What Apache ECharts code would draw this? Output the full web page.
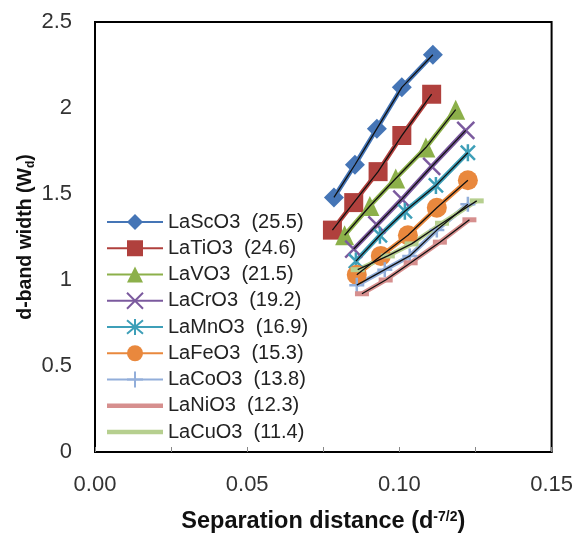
<!DOCTYPE html>
<html>
<head>
<meta charset="utf-8">
<script src="https://cdn.jsdelivr.net/npm/echarts@6/dist/echarts.min.js"></script>
<style>
  html, body { margin: 0; padding: 0; background: #fff; }
  #chart { width: 576px; height: 539px; }
</style>
</head>
<body>
<div id="chart"></div>
<script>
// compound names and legend values
var names = ["LaScO3", "LaTiO3", "LaVO3", "LaCrO3", "LaMnO3", "LaFeO3", "LaCoO3", "LaNiO3", "LaCuO3"];
var legendValues = ["25.5", "24.6", "21.5", "19.2", "16.9", "15.3", "13.8", "12.3", "11.4"];

// separation distance (x) for each compound
var xScO3 = [0.0785, 0.0854, 0.0926, 0.1008, 0.1110];
var xTiO3 = [0.0780, 0.0850, 0.0930, 0.1008, 0.1106];
var xVO3  = [0.0820, 0.0903, 0.0988, 0.1087, 0.1185];
var xCrO3 = [0.0850, 0.0926, 0.1008, 0.1106, 0.1218];
var xMnO3 = [0.0857, 0.0936, 0.1018, 0.1120, 0.1225];
var xFeO3 = [0.0860, 0.0939, 0.1028, 0.1123, 0.1225];
var xCoO3 = [0.0860, 0.0952, 0.1034, 0.1123, 0.1225];
var xNiO3 = [0.0877, 0.0955, 0.1037, 0.1133, 0.1230];
var xCuO3 = [0.0863, 0.0962, 0.1040, 0.1140, 0.1254];

// d-band width (y)
var yScO3 = [1.48, 1.67, 1.88, 2.12, 2.31];
var yTiO3 = [1.29, 1.45, 1.63, 1.84, 2.08];
var yVO3  = [1.26, 1.43, 1.59, 1.77, 1.99];
var yCrO3 = [1.18, 1.32, 1.47, 1.66, 1.87];
var yMnO3 = [1.11, 1.26, 1.40, 1.55, 1.74];
var yFeO3 = [1.03, 1.14, 1.26, 1.42, 1.58];
var yCoO3 = [0.97, 1.06, 1.14, 1.29, 1.44];
var yNiO3 = [0.92, 1.00, 1.10, 1.22, 1.35];
var yCuO3 = [1.06, 1.14, 1.21, 1.33, 1.46];

var xs = [xScO3, xTiO3, xVO3, xCrO3, xMnO3, xFeO3, xCoO3, xNiO3, xCuO3];
var ys = [yScO3, yTiO3, yVO3, yCrO3, yMnO3, yFeO3, yCoO3, yNiO3, yCuO3];

var colors = ["#4575B6", "#B0403D", "#8CB04A", "#7B5A9E", "#3E9FB8", "#E9883D", "#92AEDA", "#D68F8E", "#B6CF8F"];

// marker for each series (x, star, plus are stroked paths)
var markers = [
  { symbol: "diamond", size: 20, stroke: 0 },
  { symbol: "rect", size: 19, stroke: 0 },
  { symbol: "triangle", size: [19, 20], stroke: 0 },
  { symbol: "path://M0,0L20,20M20,0L0,20", size: 17, stroke: 2.5 },
  { symbol: "path://M0,0L20,20M20,0L0,20M10,-2L10,22", size: 17, stroke: 2.5 },
  { symbol: "circle", size: 20, stroke: 0 },
  { symbol: "path://M0,10L20,10M10,0L10,20", size: 15, stroke: 2.5 },
  { symbol: "rect", size: [14, 5], stroke: 0 },
  { symbol: "rect", size: [14, 5], stroke: 0 }
];
// Ni and Cu show a plain line in the legend
var barIcon = "path://M0,0L56,0L56,4.5L0,4.5Z";

function pairs(x, y) {
  var out = [];
  for (var i = 0; i < x.length; i++) out.push([x[i], y[i]]);
  return out;
}

var series = [];
var legendData = [];
names.forEach(function (n, i) {
  var m = markers[i];
  var label = n + "  (" + legendValues[i] + ")";
  legendData.push(i >= 7 ? { name: label, icon: barIcon } : { name: label });
  series.push({
    name: label,
    type: "line",
    data: pairs(xs[i], ys[i]),
    symbol: m.symbol,
    symbolSize: m.size,
    symbolKeepAspect: true,
    showAllSymbol: true,
    lineStyle: { color: colors[i], width: 4.5 },
    itemStyle: {
      color: colors[i],
      borderColor: colors[i],
      borderWidth: m.stroke,
      opacity: 1
    },
    z: 2
  });
});
// thin black trendlines on top
names.forEach(function (n, i) {
  series.push({
    name: "trend " + n,
    type: "line",
    data: pairs(xs[i], ys[i]),
    symbol: "none",
    lineStyle: { color: "#111", width: 1.3 },
    silent: true,
    z: 3
  });
});

var chart = echarts.init(document.getElementById("chart"));
chart.setOption({
  animation: false,
  textStyle: { fontFamily: "Liberation Sans" },
  grid: {
    left: 95, right: 24, top: 22, bottom: 84,
    show: true, borderColor: "#000", borderWidth: 2
  },
  legend: {
    data: legendData,
    orient: "vertical",
    left: 101,
    top: 207,
    itemWidth: 56,
    itemHeight: 20,
    itemGap: 6.25,
    textStyle: { fontSize: 20, color: "#222", fontFamily: "Liberation Sans" }
  },
  xAxis: {
    type: "value",
    min: 0, max: 0.15, interval: 0.05,
    axisLine: { show: true, lineStyle: { color: "#000", width: 2 } },
    axisTick: { show: true, inside: true, length: 5, lineStyle: { color: "#888" } },
    minorTick: { show: true, splitNumber: 2, length: 5, lineStyle: { color: "#888" } },
    splitLine: { show: false },
    axisLabel: {
      fontSize: 22, color: "#333", margin: 22,
      formatter: function (v) { return v.toFixed(2); }
    },
    name: "{t|Separation distance (d}{s|-7/2}{t|)}",
    nameLocation: "middle",
    nameGap: 58,
    nameTextStyle: {
      rich: {
        t: { fontSize: 23.5, fontWeight: "bold", color: "#111", fontFamily: "Liberation Sans" },
        s: { fontSize: 14, fontWeight: "bold", color: "#111", fontFamily: "Liberation Sans", verticalAlign: "top", padding: [0, 0, 10, 0] }
      }
    }
  },
  yAxis: {
    type: "value",
    min: 0, max: 2.5, interval: 0.5,
    axisLine: { show: true, lineStyle: { color: "#000", width: 2 } },
    axisTick: { show: false },
    splitLine: { show: false },
    axisLabel: { fontSize: 22, color: "#333", margin: 23, padding: [5, 0, 0, 0] },
    name: "{t|d-band width (W}{s|d}{t|)}",
    nameLocation: "middle",
    nameMoveOverlap: false,
    nameGap: 58,
    nameTextStyle: {
      rich: {
        t: { fontSize: 19.5, fontWeight: "bold", color: "#111", fontFamily: "Liberation Sans" },
        s: { fontSize: 12, fontWeight: "bold", color: "#111", fontFamily: "Liberation Sans", verticalAlign: "bottom", padding: [10, 0, 0, 0] }
      }
    }
  },
  series: series
});
</script>
</body>
</html>
